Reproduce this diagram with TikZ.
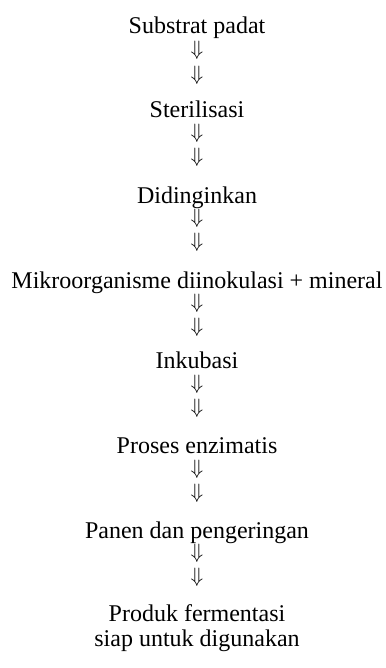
\documentclass[tikz,border=0pt]{standalone}
\usepackage{fontspec}
\setmainfont{Liberation Serif}
\begin{document}
\begin{tikzpicture}[x=1pt,y=1pt,
  stage/.style={anchor=base, inner sep=0pt, align=center,
                font=\fontsize{24}{25}\selectfont},
  darrow/.style={anchor=center, inner sep=0pt,
                 font=\fontsize{21}{21}\selectfont}]
\useasboundingbox (0,0) rectangle (385,668);
\def\cx{197}

% process stages (base anchor = baseline of the last line)
\node[stage] (s1) at (\cx,634) {Substrat padat};
\node[stage] (s2) at (\cx,550) {Sterilisasi};
\node[stage] (s3) at (\cx,464) {Didinginkan};
\node[stage] (s4) at (\cx,379) {Mikroorganisme diinokulasi + mineral};
\node[stage] (s5) at (\cx,299) {Inkubasi};
\node[stage] (s6) at (\cx,214) {Proses enzimatis};
\node[stage] (s7) at (\cx,129) {Panen dan pengeringan};
\node[stage] (s8) at (\cx,21)  {Produk fermentasi\\siap untuk digunakan};

% double arrows between consecutive stages
\node[darrow] (a1a) at (\cx,618) {$\Downarrow$};
\node[darrow] (a1b) at (\cx,593) {$\Downarrow$};
\node[darrow] (a2a) at (\cx,535) {$\Downarrow$};
\node[darrow] (a2b) at (\cx,511) {$\Downarrow$};
\node[darrow] (a3a) at (\cx,450) {$\Downarrow$};
\node[darrow] (a3b) at (\cx,426) {$\Downarrow$};
\node[darrow] (a4a) at (\cx,365) {$\Downarrow$};
\node[darrow] (a4b) at (\cx,341) {$\Downarrow$};
\node[darrow] (a5a) at (\cx,284) {$\Downarrow$};
\node[darrow] (a5b) at (\cx,260) {$\Downarrow$};
\node[darrow] (a6a) at (\cx,199) {$\Downarrow$};
\node[darrow] (a6b) at (\cx,175) {$\Downarrow$};
\node[darrow] (a7a) at (\cx,115) {$\Downarrow$};
\node[darrow] (a7b) at (\cx,91)  {$\Downarrow$};
\end{tikzpicture}
\end{document}
